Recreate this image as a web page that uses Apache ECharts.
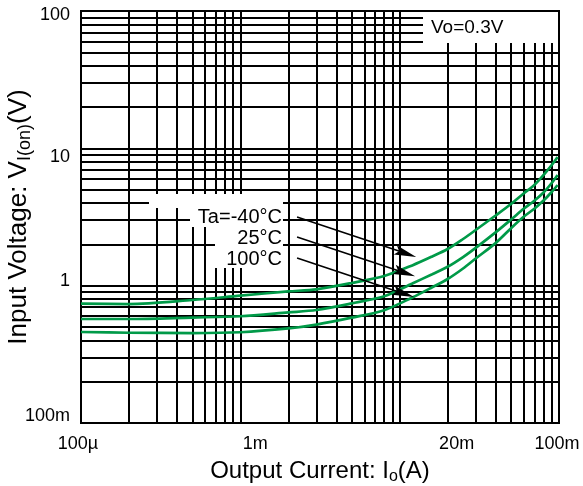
<!DOCTYPE html>
<html>
<head>
<meta charset="utf-8">
<script src="https://cdn.jsdelivr.net/npm/echarts@6/dist/echarts.min.js"></script>
<style>
  html, body { margin: 0; padding: 0; background: #fff; }
  #chart { width: 583px; height: 486px; }
</style>
</head>
<body>
<div id="chart"></div>
<script>
// Output current (A) sample points shared by the three curves
const currentA = [1e-4, 2e-4, 5e-4, 1e-3, 2e-3, 3e-3, 5e-3, 8e-3, 1.2e-2, 1.6e-2,
                  2e-2, 2.5e-2, 3e-2, 4e-2, 5e-2, 6e-2, 7e-2, 8e-2, 9e-2, 9.8e-2];
// Input voltage V_I(on) (V) per ambient temperature
const vinTaMinus40 = [0.741, 0.735, 0.786, 0.846, 0.908, 0.941, 1.046, 1.176, 1.405, 1.631,
                      1.849, 2.187, 2.543, 3.244, 3.933, 4.690, 5.408, 6.395, 7.562, 8.648];
const vinTa25 = [0.572, 0.572, 0.586, 0.599, 0.639, 0.665, 0.743, 0.838, 1.037, 1.212,
                 1.372, 1.615, 1.884, 2.443, 3.028, 3.629, 4.157, 4.770, 5.594, 6.397];
const vinTa100 = [0.460, 0.454, 0.452, 0.458, 0.488, 0.521, 0.585, 0.663, 0.820, 0.973,
                  1.118, 1.334, 1.577, 2.041, 2.621, 3.173, 3.635, 4.170, 4.808, 5.408];
const seriesNames = ['Ta=-40°C', '25°C', '100°C'];

// Labelled ticks
const xTickValues = [1e-4, 1e-3, 2e-2, 1e-1];
const xTickLabels = ['100µ', '1m', '20m', '100m'];
const yTickValues = [0.1, 1, 10, 100];
const yTickLabels = ['100m', '1', '10', '100'];

const lg = Math.log10;
const FONT = "'Liberation Sans', Arial, sans-serif";
const GREEN = '#009a48';

// small label nudges (px): x labels to the right, y labels downward
const xLabelNudge = [-3, 15, 9, -2];
const yLabelNudge = [-7, -5, 9, 4];

// grid lines at 1..9 of every decade (log10 space)
function decadeLines(lo, hi) {
  const out = [];
  for (let e = lo; e < hi; e++) {
    for (let k = 1; k < 10; k++) out.push(e + lg(k));
  }
  out.push(hi);
  return out;
}
function nudgeRich(nudges, horizontal) {
  const rich = {};
  nudges.forEach((n, i) => {
    const p = Math.abs(2 * n);
    let pad;
    if (horizontal) pad = n >= 0 ? [0, 0, 0, p] : [0, p, 0, 0];
    else pad = n >= 0 ? [p, 0, 0, 0] : [0, 0, p, 0];
    rich['n' + i] = { padding: pad, fontSize: 18, fontFamily: FONT, color: '#000' };
  });
  return rich;
}
function labelFor(values, labels) {
  return function (v) {
    const i = values.findIndex(t => Math.abs(lg(t) - v) < 1e-6);
    return i >= 0 ? '{n' + i + '|' + labels[i] + '}' : '';
  };
}
function toPoints(xs, ys) {
  return xs.map((x, i) => [lg(x), lg(ys[i])]);
}

// arrows from the temperature labels to the curves: [current A, voltage V]
const arrows = [
  [[2.27e-3, 3.16], [1.27e-2, 1.62]],
  [[2.27e-3, 2.26], [1.25e-2, 1.17]],
  [[2.27e-3, 1.59], [1.23e-2, 0.826]]
];

const curves = [vinTaMinus40, vinTa25, vinTa100];

const series = curves.map((v, i) => ({
  name: seriesNames[i],
  type: 'line',
  data: toPoints(currentA, v),
  showSymbol: false,
  smooth: 0.3,
  z: 3,
  lineStyle: { color: GREEN, width: 2.7 }
}));

const splitStyle = { show: true, lineStyle: { color: '#000', width: 2 } };

const baseGraphic = [
  // condition box, top right
  { type: 'rect', z: 50, shape: { x: 423, y: 12, width: 135, height: 31 }, style: { fill: '#fff' } },
  { type: 'text', z: 51, x: 431, y: 28,
    style: { text: 'Vo=0.3V', fill: '#000', font: '19px ' + FONT, textVerticalAlign: 'middle' } },
  // temperature label box
  { type: 'rect', z: 50, shape: { x: 149, y: 194, width: 134, height: 14 }, style: { fill: '#fff' } },
  { type: 'rect', z: 50, shape: { x: 190, y: 194, width: 93, height: 33 }, style: { fill: '#fff' } },
  { type: 'rect', z: 50, shape: { x: 215, y: 194, width: 68, height: 74 }, style: { fill: '#fff' } },
  { type: 'text', z: 51, x: 282, y: 217,
    style: { text: seriesNames[0], fill: '#000', font: '20px ' + FONT, textAlign: 'right', textVerticalAlign: 'middle' } },
  { type: 'text', z: 51, x: 282, y: 238,
    style: { text: seriesNames[1], fill: '#000', font: '20px ' + FONT, textAlign: 'right', textVerticalAlign: 'middle' } },
  { type: 'text', z: 51, x: 282, y: 259,
    style: { text: seriesNames[2], fill: '#000', font: '20px ' + FONT, textAlign: 'right', textVerticalAlign: 'middle' } }
];

const option = {
  animation: false,
  backgroundColor: '#fff',
  grid: {
    left: 81, right: 24, top: 11, bottom: 63,
    outerBoundsMode: 'none',
    containLabel: false,
    show: true, borderColor: '#000', borderWidth: 2
  },
  xAxis: {
    type: 'value',
    min: -4, max: -1,
    name: '{t|Output Current: I}{s|o}{t|(A)}',
    nameLocation: 'middle',
    nameGap: 34,
    nameMoveOverlap: false,
    nameTextStyle: {
      rich: {
        t: { fontSize: 24, fontFamily: FONT, color: '#000' },
        s: { fontSize: 16, fontFamily: FONT, color: '#000', padding: [12, 0, 0, 0] }
      }
    },
    axisLine: { show: true, lineStyle: { color: '#000', width: 2 } },
    axisTick: { show: false, customValues: decadeLines(-4, -1) },
    splitLine: splitStyle,
    axisLabel: {
      customValues: xTickValues.map(lg),
      formatter: labelFor(xTickValues, xTickLabels),
      rich: nudgeRich(xLabelNudge, true),
      color: '#000', fontSize: 18, fontFamily: FONT, margin: 12
    }
  },
  yAxis: {
    type: 'value',
    min: -1, max: 2,
    name: '{t|Input Voltage: V}{s|I(on)}{t|(V)}',
    nameLocation: 'middle',
    nameGap: 47,
    nameRotate: 90,
    nameMoveOverlap: false,
    nameTextStyle: {
      rich: {
        t: { fontSize: 26, fontFamily: FONT, color: '#000' },
        s: { fontSize: 18, fontFamily: FONT, color: '#000', padding: [13, 0, 0, 0] }
      }
    },
    axisLine: { show: true, lineStyle: { color: '#000', width: 2 } },
    axisTick: { show: false, customValues: decadeLines(-1, 2) },
    splitLine: splitStyle,
    axisLabel: {
      customValues: yTickValues.map(lg),
      formatter: labelFor(yTickValues, yTickLabels),
      rich: nudgeRich(yLabelNudge, false),
      color: '#000', fontSize: 18, fontFamily: FONT, margin: 11
    }
  },
  graphic: baseGraphic,
  series: series
};

const chart = echarts.init(document.getElementById('chart'), null, { renderer: 'canvas' });
chart.setOption(option);

// arrows drawn in data coordinates, converted through the axes
function arrowGraphics() {
  const els = [];
  arrows.forEach(a => {
    const p0 = chart.convertToPixel({ gridIndex: 0 }, [lg(a[0][0]), lg(a[0][1])]);
    const p1 = chart.convertToPixel({ gridIndex: 0 }, [lg(a[1][0]), lg(a[1][1])]);
    const dx = p1[0] - p0[0], dy = p1[1] - p0[1];
    const len = Math.hypot(dx, dy);
    const ux = dx / len, uy = dy / len;
    const nx = -uy, ny = ux;
    const L = 22, W = 4.8, notch = 4;
    const bx = p1[0] - ux * L, by = p1[1] - uy * L;
    els.push({ type: 'line', z: 60,
      shape: { x1: p0[0], y1: p0[1], x2: p1[0] - ux * 12, y2: p1[1] - uy * 12 },
      style: { stroke: '#000', lineWidth: 1.6 } });
    els.push({ type: 'polygon', z: 60,
      shape: { points: [[p1[0], p1[1]], [bx + nx * W, by + ny * W],
                        [bx + ux * notch, by + uy * notch], [bx - nx * W, by - ny * W]] },
      style: { fill: '#000' } });
  });
  return els;
}
chart.setOption({ graphic: baseGraphic.concat(arrowGraphics()) });
</script>
</body>
</html>
